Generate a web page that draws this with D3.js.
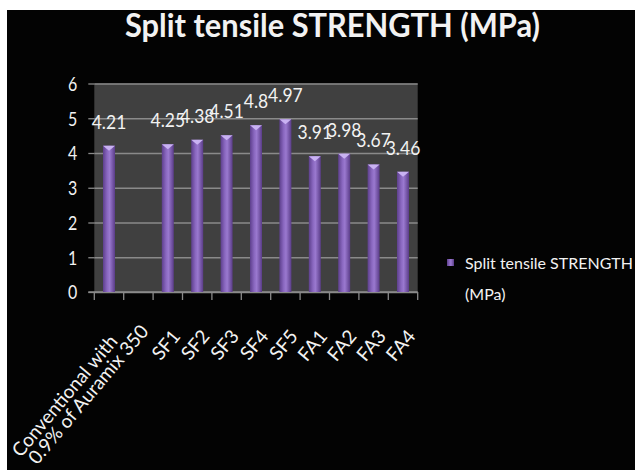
<!DOCTYPE html>
<html><head><meta charset="utf-8">
<script src="https://cdn.jsdelivr.net/npm/d3@7/dist/d3.min.js"></script>
<style>
html,body{margin:0;padding:0;background:#fff;}
svg{display:block;}
text{font-family:Lato,"Open Sans",sans-serif;fill:#f2f2f2;}
</style></head>
<body>
<svg id="c" width="635" height="470"></svg>
<script>
const title = "Split tensile STRENGTH (MPa)";
const categories = ["Conventional with\n0.9% of Auramix 350", "", "SF1", "SF2", "SF3", "SF4", "SF5", "FA1", "FA2", "FA3", "FA4"];
const values = [4.21, null, 4.25, 4.38, 4.51, 4.8, 4.97, 3.91, 3.98, 3.67, 3.46];
const yTicks = [0, 1, 2, 3, 4, 5, 6];
const seriesName = ["Split tensile STRENGTH", "(MPa)"];

const K = 1.15;
const svg = d3.select("#c");
svg.append("rect").attr("x", 7).attr("y", 10).attr("width", 628).attr("height", 460).attr("fill", "#030303");

const defs = svg.append("defs");
const g = defs.append("linearGradient").attr("id", "bar").attr("x1", "0").attr("x2", "1").attr("y1", "0").attr("y2", "0");
[[0, "#5d3f8c"], [0.35, "#8a68c0"], [0.55, "#9a79cf"], [1, "#5a3c88"]].forEach(s => g.append("stop").attr("offset", s[0]).attr("stop-color", s[1]));

const x = d3.scaleBand().domain(d3.range(categories.length)).range([94.3, 417.7]).padding(0);
const y = d3.scaleLinear().domain([0, 6]).range([292, 83.5]);

svg.append("rect").attr("x", x.range()[0]).attr("y", y(6)).attr("width", x.range()[1] - x.range()[0]).attr("height", y(0) - y(6)).attr("fill", "#404040");

const ya = svg.append("g").attr("transform", `translate(${x.range()[0]},0)`)
  .call(d3.axisLeft(y).tickValues(yTicks).tickFormat(d3.format("d")).tickSize(-(x.range()[1] - x.range()[0])).tickSizeOuter(0).tickPadding(17));
ya.select(".domain").remove();
ya.selectAll(".tick line").attr("stroke", "#8a8a8a").attr("stroke-width", 1.3);
ya.selectAll(".tick").append("line").attr("x1", -6).attr("x2", 0).attr("stroke", "#8a8a8a").attr("stroke-width", 1.3);
ya.selectAll(".tick text").attr("font-size", 16).attr("fill", "#f2f2f2").attr("font-family", "Lato")
  .attr("dy", null).attr("y", 0).attr("transform", `scale(1,${K})`).attr("dominant-baseline", "central");

const bounds = d3.range(categories.length + 1).map(i => x.range()[0] + i * x.step());
svg.append("line").attr("x1", x.range()[0] - 6).attr("x2", x.range()[1]).attr("y1", y(0)).attr("y2", y(0)).attr("stroke", "#8a8a8a").attr("stroke-width", 1.5);
svg.selectAll(".xt").data(bounds).join("line").attr("x1", d => d).attr("x2", d => d).attr("y1", y(0)).attr("y2", y(0) + 8).attr("stroke", "#8a8a8a").attr("stroke-width", 1.3);

const bw = 12;
const data = values.map((v, i) => ({ v, i })).filter(d => d.v != null);
const bars = svg.append("g");
bars.selectAll("rect").data(data).join("rect")
  .attr("x", d => x(d.i) + x.bandwidth() / 2 - bw / 2).attr("width", bw)
  .attr("y", d => y(d.v)).attr("height", d => y(0) - y(d.v)).attr("fill", "url(#bar)");
bars.selectAll("path.cap").data(data).join("path").attr("class", "cap")
  .attr("d", d => { const cx = x(d.i) + x.bandwidth() / 2, t = y(d.v); return `M${cx - bw / 2},${t}L${cx + bw / 2},${t}L${cx},${t + 5}Z`; })
  .attr("fill", "#c9b2f2");

svg.selectAll(".vl").data(data).join("text")
  .attr("transform", d => `translate(${x(d.i) + x.bandwidth() / 2},${y(d.v) - 17}) scale(1,1.08)`)
  .attr("text-anchor", "middle").attr("font-size", 17.5).text(d => d.v);

categories.forEach((c, i) => {
  if (!c) return;
  const cx = x(i) + x.bandwidth() / 2;
  const lines = c.split("\n");
  if (lines.length === 1) {
    svg.append("text").attr("transform", `translate(${cx + 13.5},336.8) rotate(-50)`)
      .attr("text-anchor", "end").attr("font-size", 19).text(c);
  } else {
    const t = svg.append("text").attr("transform", `translate(${cx + 9.5},341.8) rotate(-50)`)
      .attr("text-anchor", "end").attr("font-size", 19);
    t.append("tspan").attr("x", 0).attr("y", 0).text(lines[0]);
    t.append("tspan").attr("x", 27.6).attr("y", 17.3).text(lines[1]);
  }
});

svg.append("text").attr("x", 125).attr("y", 37).attr("font-size", 33).attr("font-weight", 700)
  .attr("textLength", 415).attr("lengthAdjust", "spacingAndGlyphs").text(title);

svg.append("rect").attr("x", 447).attr("y", 259).attr("width", 7).attr("height", 7).attr("fill", "url(#bar)");
svg.append("text").attr("x", 465).attr("y", 269).attr("font-size", 16).text(seriesName[0]);
svg.append("text").attr("x", 465).attr("y", 300).attr("font-size", 16).text(seriesName[1]);
</script>
</body></html>
